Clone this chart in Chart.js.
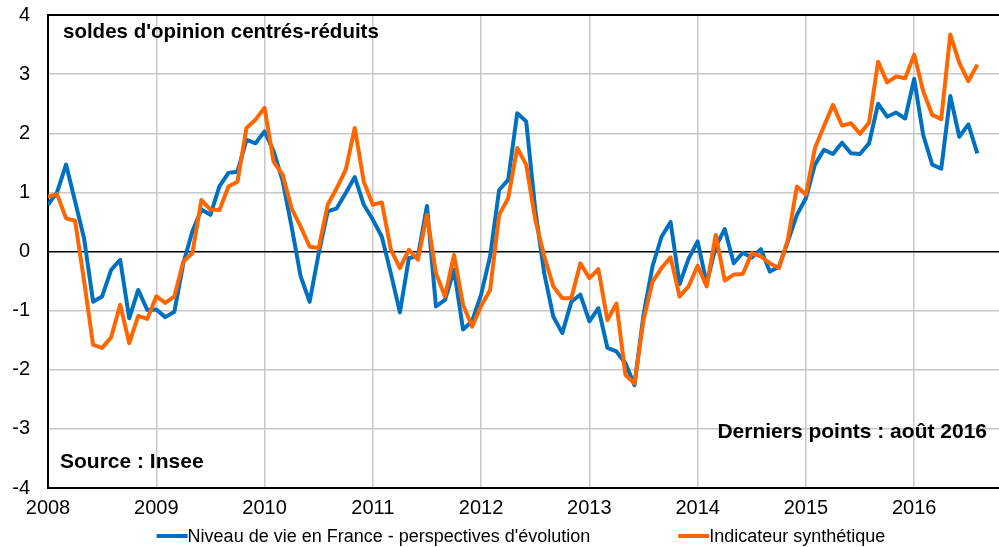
<!DOCTYPE html>
<html>
<head>
<meta charset="utf-8">
<script src="https://cdn.jsdelivr.net/npm/chart.js@4/dist/chart.umd.min.js"></script>
<style>
  html, body { margin: 0; padding: 0; background: #fff; }
  #wrap { width: 999px; height: 547px; }
</style>
</head>
<body>
<div id="wrap"><canvas id="chart" width="999" height="547"></canvas></div>
<script>
// monthly data, janvier 2008 -> août 2016
const years = ['2008', '2009', '2010', '2011', '2012', '2013', '2014', '2015', '2016'];

const niveauDeVie = [
  0.79, 1.0, 1.47, 0.85, 0.22, -0.85, -0.76, -0.31, -0.14, -1.13, -0.65, -0.99,
  -0.98, -1.11, -1.02, -0.2, 0.34, 0.71, 0.62, 1.1, 1.33, 1.35, 1.89, 1.83,
  2.03, 1.7, 1.2, 0.42, -0.42, -0.85, -0.03, 0.68, 0.73, 0.99, 1.26, 0.79,
  0.54, 0.25, -0.37, -1.03, -0.11, -0.08, 0.77, -0.93, -0.82, -0.31, -1.32, -1.18,
  -0.73, -0.08, 1.04, 1.21, 2.34, 2.2, 0.71, -0.37, -1.1, -1.38, -0.85, -0.73,
  -1.18, -0.96, -1.63, -1.69, -1.89, -2.26, -1.07, -0.25, 0.25, 0.5, -0.55, -0.12,
  0.17, -0.54, 0.08, 0.38, -0.2, -0.02, -0.1, 0.04, -0.34, -0.26, 0.17, 0.62,
  0.9, 1.47, 1.72, 1.65, 1.84, 1.66, 1.65, 1.83, 2.5, 2.28, 2.35, 2.25,
  2.92, 1.97, 1.47, 1.4, 2.63, 1.94, 2.15, 1.66
];

const indicateur = [
  0.93, 0.97, 0.56, 0.52, -0.5, -1.58, -1.63, -1.45, -0.9, -1.55, -1.09, -1.14,
  -0.76, -0.87, -0.76, -0.17, -0.03, 0.87, 0.71, 0.7, 1.1, 1.18, 2.09, 2.23,
  2.43, 1.52, 1.3, 0.73, 0.42, 0.08, 0.06, 0.79, 1.07, 1.38, 2.09, 1.18,
  0.79, 0.83, 0.03, -0.28, 0.03, -0.14, 0.62, -0.37, -0.76, -0.06, -0.9, -1.27,
  -0.92, -0.65, 0.62, 0.9, 1.75, 1.47, 0.54, -0.08, -0.59, -0.79, -0.79, -0.2,
  -0.45, -0.3, -1.16, -0.88, -2.09, -2.23, -1.16, -0.51, -0.28, -0.1, -0.76, -0.59,
  -0.24, -0.59, 0.28, -0.49, -0.39, -0.38, -0.03, -0.08, -0.2, -0.28, 0.2, 1.1,
  0.96, 1.75, 2.12, 2.48, 2.13, 2.17, 1.99, 2.18, 3.21, 2.86, 2.96, 2.93,
  3.33, 2.71, 2.31, 2.24, 3.67, 3.19, 2.88, 3.16
];

const seriesNames = ["Niveau de vie en France - perspectives d'évolution", 'Indicateur synthétique'];
const seriesColors = ['#0070C0', '#FF6600'];

const titleText = "soldes d'opinion centrés-réduits";
const sourceText = 'Source : Insee';
const lastPointText = 'Derniers points : août 2016';

Chart.defaults.font.family = "'Liberation Sans', Arial, sans-serif";
Chart.defaults.color = '#000';

function toPoints(values) {
  return values.map((v, i) => ({ x: i, y: v }));
}

// texts + legend drawn on top of the chart
const extrasPlugin = {
  id: 'extras',
  afterDraw(chart) {
    const ctx = chart.ctx;
    ctx.save();
    ctx.fillStyle = '#000';
    ctx.textBaseline = 'middle';

    ctx.font = "bold 20.5px 'Liberation Sans', Arial, sans-serif";
    ctx.textAlign = 'left';
    ctx.fillText(titleText, 63, 32);

    ctx.font = "bold 21px 'Liberation Sans', Arial, sans-serif";
    ctx.fillText(sourceText, 60, 462);
    ctx.textAlign = 'right';
    ctx.fillText(lastPointText, 987, 432);

    // legend
    ctx.font = "18px 'Liberation Sans', Arial, sans-serif";
    ctx.textAlign = 'left';
    const markerW = 31, gap = 88, y = 537;
    const widths = seriesNames.map(n => ctx.measureText(n).width);
    const total = widths.reduce((s, w) => s + markerW + w, 0) + gap;
    let x = 521 - total / 2;
    seriesNames.forEach((name, k) => {
      ctx.strokeStyle = seriesColors[k];
      ctx.lineWidth = 4;
      ctx.beginPath();
      ctx.moveTo(x, y - 1);
      ctx.lineTo(x + markerW, y - 1);
      ctx.stroke();
      ctx.fillText(name, x + markerW, y);
      x += markerW + widths[k] + gap;
    });
    ctx.restore();
  }
};

const ctx = document.getElementById('chart').getContext('2d');
const chart = new Chart(ctx, {
  type: 'line',
  data: {
    datasets: [
      {
        label: seriesNames[0],
        data: toPoints(niveauDeVie),
        borderColor: seriesColors[0],
        borderWidth: 4,
        pointRadius: 0,
        tension: 0,
        borderJoinStyle: 'round',
        order: 1
      },
      {
        label: seriesNames[1],
        data: toPoints(indicateur),
        borderColor: seriesColors[1],
        borderWidth: 4,
        pointRadius: 0,
        tension: 0,
        borderJoinStyle: 'round',
        order: 0
      }
    ]
  },
  options: {
    responsive: false,
    animation: false,
    devicePixelRatio: 1,
    layout: { padding: { top: 15, left: 0, right: 0, bottom: 29 } },
    plugins: {
      legend: { display: false },
      tooltip: { enabled: false }
    },
    scales: {
      x: {
        type: 'linear',
        min: 0,
        max: 105.4,
        afterBuildTicks: scale => {
          scale.ticks = years.map((y, k) => ({ value: k * 12 }));
        },
        afterFit: scale => {
          scale.height = 30;
          scale.paddingLeft = 0;
          scale.paddingRight = 0;
        },
        ticks: {
          autoSkip: false,
          maxRotation: 0,
          padding: 8,
          font: { size: 20 },
          callback: v => years[v / 12]
        },
        grid: { color: '#c8c8c8', lineWidth: 1.5, drawTicks: false },
        border: { color: '#000', width: 2 }
      },
      y: {
        min: -4,
        max: 4,
        afterFit: scale => {
          scale.width = 48;
          scale.paddingTop = 0;
          scale.paddingBottom = 0;
        },
        ticks: { stepSize: 1, padding: 18, font: { size: 20 } },
        grid: {
          drawTicks: false,
          color: c => (c.tick && (c.tick.value === 0 || c.tick.value === 4)) ? '#000' : '#c8c8c8',
          lineWidth: c => (c.tick && c.tick.value === 4) ? 2 : 1.5
        },
        border: { color: '#000', width: 2 }
      }
    }
  },
  plugins: [extrasPlugin]
});
</script>
</body>
</html>
